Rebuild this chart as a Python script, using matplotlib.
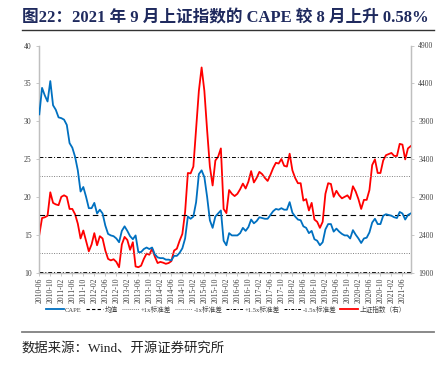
import matplotlib
matplotlib.use("Agg")
import matplotlib.pyplot as plt
from matplotlib.lines import Line2D
import numpy as np
import pandas as pd

# ---------------- data ----------------
months = pd.period_range("2010-06", "2021-09", freq="M").strftime("%Y-%m").tolist()

cape = [30.9, 34.4, 33.4, 32.6, 35.3, 32.1, 31.5, 30.5, 30.4, 30.2,
        29.5, 27.1, 26.5, 25.3, 23.5, 20.7, 21.3, 20.0, 18.5, 18.5,
        19.2, 17.8, 18.3, 17.8, 16.2, 15.1, 14.9, 14.8, 14.5, 14.0,
        15.5, 16.1, 15.5, 14.8, 14.4, 14.9, 12.7, 12.7, 13.1, 13.3,
        13.1, 13.3, 12.4, 12.0, 11.9, 11.9, 11.7, 11.7, 11.6, 12.2,
        12.2, 12.6, 13.2, 14.5, 17.4, 17.1, 17.4, 19.3, 23.0, 23.5,
        22.6, 20.0, 16.9, 15.9, 17.4, 17.8, 18.2, 14.2, 13.6, 15.2,
        14.9, 14.9, 14.9, 15.2, 15.9, 15.5, 16.0, 17.0, 16.5, 16.8,
        17.3, 17.2, 17.1, 17.1, 17.6, 18.1, 18.4, 18.3, 18.5, 18.3,
        18.3, 19.3, 17.9, 17.4, 17.0, 16.9, 16.1, 15.9, 15.2, 15.5,
        14.4, 14.2, 13.6, 14.0, 15.7, 16.4, 16.4, 15.4, 15.8, 15.4,
        15.1, 14.9, 14.9, 14.5, 15.6, 15.0, 14.5, 13.9, 14.5, 14.6,
        15.3, 16.6, 17.1, 16.4, 16.4, 17.5, 17.7, 17.6, 17.5, 17.3,
        17.2, 18.0, 17.8, 17.0, 17.6, 17.8]

szzs = [2400, 2620, 2630, 2650, 2960, 2820, 2800, 2790, 2900, 2920,
        2900, 2740, 2740, 2670, 2545, 2350, 2455, 2320, 2180, 2270,
        2420, 2260, 2380, 2350, 2190, 2080, 2060, 2075, 2040, 1970,
        2270, 2370, 2330, 2200, 2300, 1980, 1970, 1990, 2080, 2150,
        2135, 2215, 2110, 2025, 2040, 2030, 2015, 2025, 2050, 2190,
        2215, 2320, 2410, 2700, 3215, 3210, 3300, 3800, 4300, 4610,
        4300, 3780, 3300, 3050, 3380, 3430, 3540, 2740, 2685, 2990,
        2940, 2910, 2940, 3000, 3075, 3010, 3100, 3240, 3090, 3150,
        3230, 3200, 3150, 3110, 3190, 3280, 3350, 3340, 3400, 3310,
        3300, 3470, 3250, 3150, 3080, 3080, 2850, 2870, 2720, 2820,
        2600, 2570, 2490, 2570, 2940, 3080, 3070, 2900, 2980, 2920,
        2880, 2900, 2920, 2870, 3040, 2970, 2870, 2740, 2860, 2860,
        2990, 3320, 3395, 3215, 3215, 3380, 3450, 3465, 3480, 3440,
        3440, 3600, 3590, 3395, 3540, 3570]

cape_mean = 17.66
cape_std = 5.05

left_ticks = [10, 15, 20, 25, 30, 35, 40]
right_ticks = [1900, 2400, 2900, 3400, 3900, 4400, 4900]

title_text = "图22：2021 年 9 月上证指数的 CAPE 较 8 月上升 0.58%"
source_text = "数据来源：Wind、开源证券研究所"
legend_labels = ["CAPE", "均值", "+1x标准差", "-1x标准差", "+1.5x标准差", "-1.5x标准差", "上证指数（右）"]

# ---------------- style ----------------
FAM = ["Liberation Serif", "Noto Sans CJK SC", "DejaVu Sans"]
plt.rcParams["font.family"] = FAM
BLUE = "#0070C0"
RED = "#FF0000"
AXC = "#BFBFBF"
TXT = "#404040"

W, H = 447, 370
fig = plt.figure(figsize=(W / 100, H / 100), dpi=100)

def fx(px):
    return px / W

def fy(py):
    return 1 - py / H

ax = fig.add_axes([fx(39.3), fy(272.5), fx(410.7) - fx(39.3), fy(45.5) - fy(272.5)])
ax2 = ax.twinx()

x = np.arange(len(months))

# reference lines
ax.axhline(cape_mean, color="#000000", lw=0.8, ls=(0, (5, 3)), zorder=1)
ax.axhline(cape_mean + cape_std, color="#808080", lw=0.7, ls=(0, (1, 1.5)), zorder=1)
ax.axhline(cape_mean - cape_std, color="#808080", lw=0.7, ls=(0, (1, 1.5)), zorder=1)
ax.axhline(cape_mean + 1.5 * cape_std, color="#000000", lw=0.7, ls=(0, (4, 2, 1, 2)), zorder=1)
ax.axhline(cape_mean - 1.5 * cape_std, color="#000000", lw=0.7, ls=(0, (4, 2, 1, 2)), zorder=1)

ax.plot(x, cape, color=BLUE, lw=1.3, zorder=3)
ax2.plot(x, szzs, color=RED, lw=1.3, zorder=3)

ax.set_xlim(0, len(months) - 1)
ax.set_ylim(10, 40)
ax2.set_ylim(1900, 4900)
ax.set_yticks(left_ticks)
ax2.set_yticks(right_ticks)
ax.set_xticks(x[::4])
ax.set_xticklabels(months[::4], rotation=90, fontsize=5.2, color=TXT)

for a in (ax, ax2):
    a.spines["top"].set_visible(False)
    for s in ("left", "right", "bottom"):
        a.spines[s].set_color(AXC)
        a.spines[s].set_linewidth(0.9)
    a.tick_params(axis="both", labelsize=5.5, colors=TXT, length=2, width=0.6)
    for t in a.get_yticklabels() + a.get_xticklabels():
        t.set_color(TXT)
ax.tick_params(axis="x", length=2, pad=1.5, color=AXC)
ax.tick_params(axis="y", color=AXC)
ax2.tick_params(axis="y", color=AXC)
ax.set_zorder(ax2.get_zorder() + 1)
ax.patch.set_visible(False)

# legend
handles = [
    Line2D([], [], color=BLUE, lw=1.3),
    Line2D([], [], color="#000000", lw=0.8, ls=(0, (3, 2))),
    Line2D([], [], color="#808080", lw=0.7, ls=(0, (1, 1))),
    Line2D([], [], color="#808080", lw=0.7, ls=(0, (1, 1))),
    Line2D([], [], color="#000000", lw=0.7, ls=(0, (3, 1.5, 1, 1.5))),
    Line2D([], [], color="#000000", lw=0.7, ls=(0, (3, 1.5, 1, 1.5))),
    Line2D([], [], color=RED, lw=1.3),
]
fig.legend(handles, legend_labels, loc="center", bbox_to_anchor=(fx(226), fy(309)),
           ncol=7, frameon=False, fontsize=4.8, handlelength=2.6, handletextpad=0.25,
           columnspacing=0.55, labelcolor=TXT)

# title
fig.text(fx(22), fy(18), title_text, fontsize=12, fontweight="bold", color="#1F2A5E",
         ha="left", va="center", family=FAM)
fig.add_artist(Line2D([fx(22), fx(434)], [fy(30), fy(30)], color="#333333", lw=1.0))

# bottom rule and source
fig.add_artist(Line2D([fx(22), fx(434)], [fy(332), fy(332)], color="#808080", lw=1.3))
fig.text(fx(22), fy(348), source_text, fontsize=9.6, color="#222222", ha="left", va="center",
         family=FAM)

fig.savefig("out.png", dpi=100)
